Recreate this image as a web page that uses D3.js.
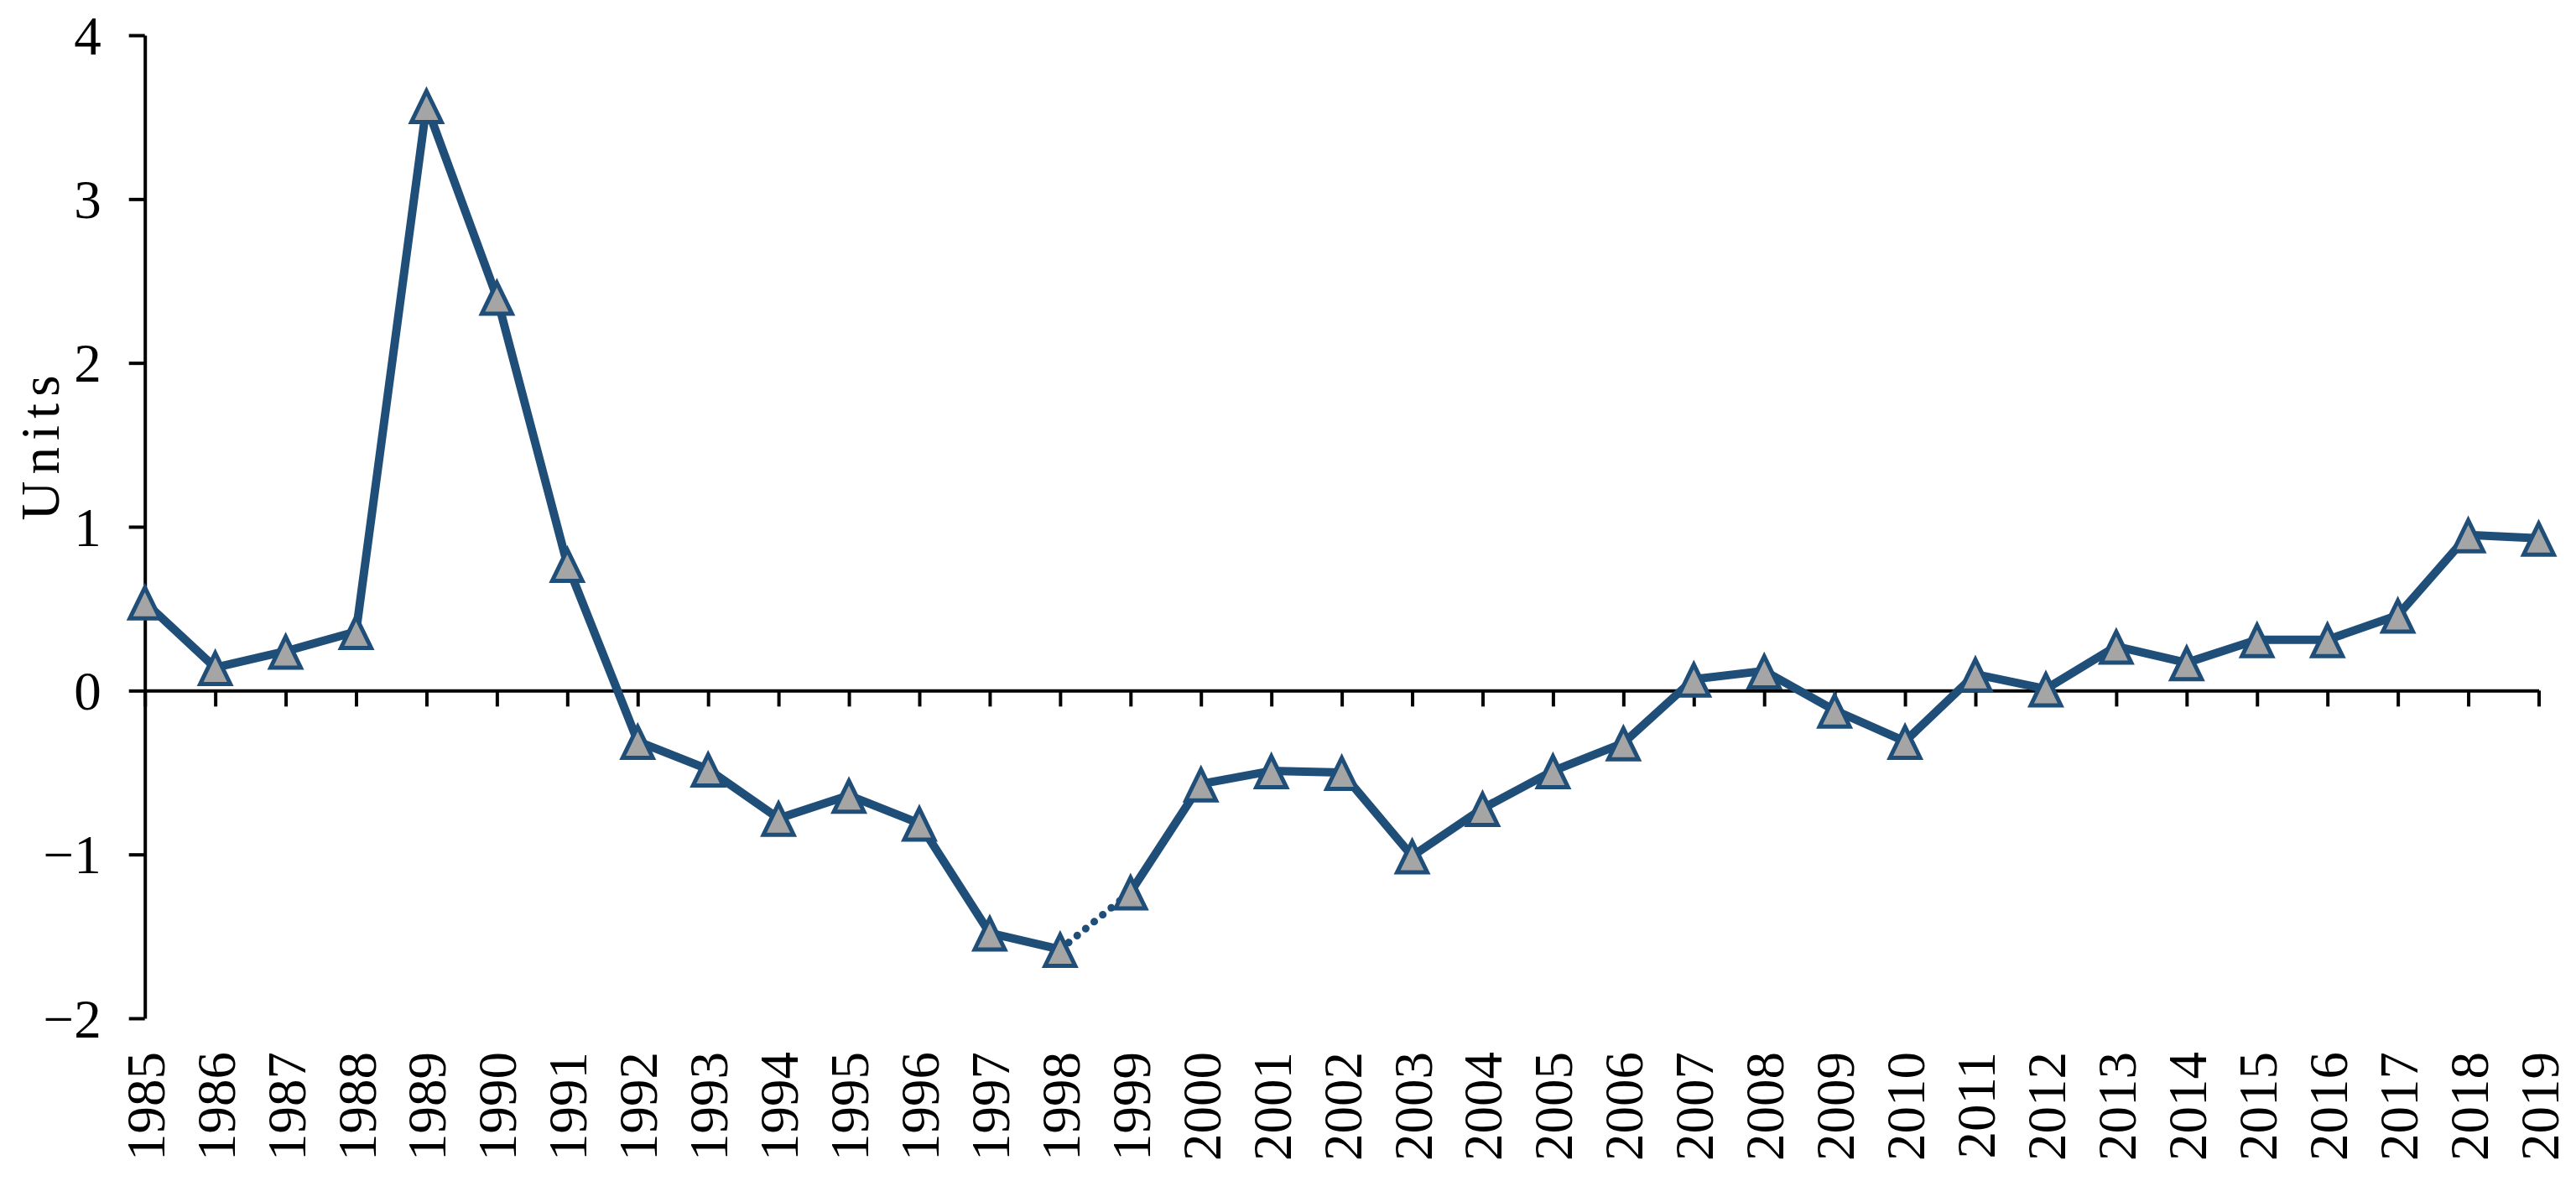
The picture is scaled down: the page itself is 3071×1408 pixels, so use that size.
<!DOCTYPE html>
<html>
<head>
<meta charset="utf-8">
<script src="https://cdn.jsdelivr.net/npm/d3@7"></script>
<style>
  html, body { margin: 0; padding: 0; background: #ffffff; }
  svg { display: block; }
  text { font-family: "Liberation Serif", "DejaVu Serif", serif; fill: #000; }
</style>
</head>
<body>
<svg id="chart" width="3071" height="1408"></svg>
<script>
// ---- data ----
const years = [1985,1986,1987,1988,1989,1990,1991,1992,1993,1994,1995,1996,1997,1998,1999,
               2000,2001,2002,2003,2004,2005,2006,2007,2008,2009,2010,2011,2012,2013,2014,
               2015,2016,2017,2018,2019];
const values = [0.54,0.14,0.24,0.36,3.57,2.40,0.77,-0.31,-0.48,-0.78,-0.64,-0.81,-1.48,-1.58,-1.23,
                -0.57,-0.49,-0.50,-1.01,-0.72,-0.49,-0.32,0.07,0.12,-0.12,-0.31,0.10,0.01,0.27,0.17,
                0.31,0.31,0.46,0.95,0.93];
const yTicks = [-2,-1,0,1,2,3,4];
const dottedSegment = [1998, 1999];
const yLabel = "Units";

// ---- layout ----
const svg = d3.select("#chart");
const lineColor = "#1F4E79";
const markerFill = "#A5A5A5";

const x = d3.scaleLinear().domain([1985, 2019]).range([172.7, 3026.5]);
const y = d3.scaleLinear().domain([-2, 4]).range([1214, 42]);

const data = years.map((yr, i) => ({year: yr, value: values[i]}));

// y axis
const yAxis = d3.axisLeft(y).tickValues(yTicks).tickSize(19).tickSizeOuter(0).tickPadding(33)
  .tickFormat(d => d < 0 ? "\u2212" + Math.abs(d) : String(d));
const gy = svg.append("g").attr("transform", `translate(${x(1985)},0)`).call(yAxis);
gy.selectAll("path.domain").attr("stroke", "#000").attr("stroke-width", 4);
gy.selectAll(".tick line").attr("stroke", "#000").attr("stroke-width", 4);
gy.selectAll(".tick text").attr("font-size", 65).attr("font-family", "Liberation Serif").attr("fill", "#000").attr("dy", "0.34em");

// x axis at zero
const xAxis = d3.axisBottom(x).tickValues(years).tickSize(19).tickSizeOuter(0).tickFormat("");
const gx = svg.append("g").attr("transform", `translate(0,${y(0)})`).call(xAxis);
gx.selectAll("path.domain").attr("stroke", "#000").attr("stroke-width", 4);
gx.selectAll(".tick line").attr("stroke", "#000").attr("stroke-width", 4);

// x labels at bottom, rotated
svg.append("g").selectAll("text").data(years).join("text")
  .attr("transform", d => `translate(${x(d) + 23},1254) rotate(-90)`)
  .attr("text-anchor", "end")
  .attr("font-size", 65)
  .text(d => d);

// y label
svg.append("text")
  .attr("transform", `translate(70,530) rotate(-90)`)
  .attr("text-anchor", "middle")
  .attr("font-size", 65)
  .attr("letter-spacing", 8)
  .text(yLabel);

// line segments
const line = d3.line().x(d => x(d.year)).y(d => y(d.value));
const part1 = data.filter(d => d.year <= dottedSegment[0]);
const part2 = data.filter(d => d.year >= dottedSegment[1]);
const dotted = data.filter(d => d.year >= dottedSegment[0] && d.year <= dottedSegment[1]);

svg.append("path").datum(dotted).attr("d", line)
  .attr("fill", "none").attr("stroke", lineColor).attr("stroke-width", 9)
  .attr("stroke-linecap", "round").attr("stroke-dasharray", "0.1 13");

[part1, part2].forEach(p => {
  svg.append("path").datum(p).attr("d", line)
    .attr("fill", "none").attr("stroke", lineColor).attr("stroke-width", 10)
    .attr("stroke-linejoin", "round").attr("stroke-linecap", "round");
});

// triangle markers
const tri = "M0,-17.5 L18,19.5 L-18,19.5 Z";
svg.append("g").selectAll("path").data(data).join("path")
  .attr("transform", d => `translate(${x(d.year)},${y(d.value)})`)
  .attr("d", tri)
  .attr("fill", markerFill)
  .attr("stroke", lineColor)
  .attr("stroke-width", 5);
</script>
</body>
</html>
